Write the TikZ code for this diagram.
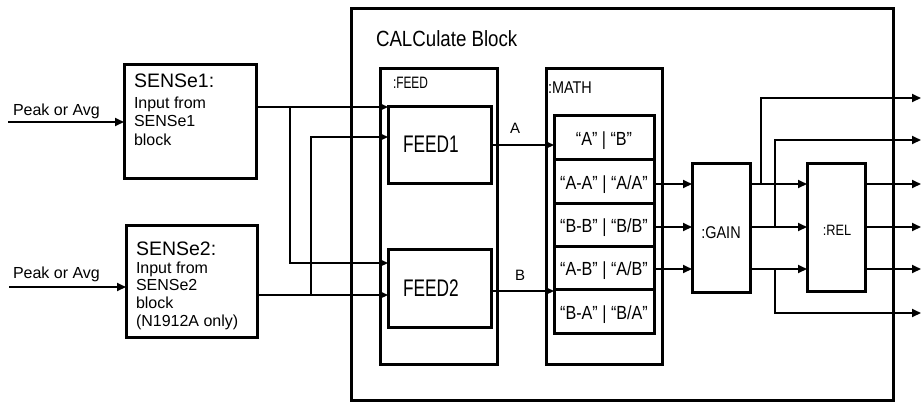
\documentclass[tikz,border=0pt]{standalone}
\usepackage{fontspec}
\setmainfont{Liberation Sans}
\newfontfamily\fA{Liberation Sans}
\newfontfamily\fB{Liberation Sans}[FakeStretch=0.85]
\newfontfamily\fC{Liberation Sans}[FakeStretch=0.72]
\usetikzlibrary{arrows.meta}
\begin{document}
\begin{tikzpicture}[x=1pt,y=-1pt,
  box/.style={draw, line width=3pt, rectangle, inner sep=0pt, outer sep=0pt},
  conn/.style={line width=2pt},
  arr/.style={line width=2pt, -{Triangle[length=9pt,width=8pt]}},
  lbl/.style={inner sep=0pt, outer sep=0pt, anchor=base west},
  clbl/.style={inner sep=0pt, outer sep=0pt, anchor=base},
]
\useasboundingbox (0,0) rectangle (924,405);

% boxes
\node[box, minimum width=542, minimum height=392] (calc) at (622,204) {};
\node[box, minimum width=132, minimum height=114] (s1) at (190,121) {};
\node[box, minimum width=131, minimum height=112] (s2) at (191.5,281) {};
\node[box, minimum width=117, minimum height=296] (feed) at (438.5,216) {};
\node[box, minimum width=103, minimum height=77] (feed1) at (439.5,144.5) {};
\node[box, minimum width=103, minimum height=78] (feed2) at (439.5,288) {};
\node[box, minimum width=116, minimum height=296] (math) at (604,216) {};
\node[box, minimum width=100, minimum height=44] (r1) at (604,137) {};
\node[box, minimum width=100, minimum height=44] (r2) at (604,181) {};
\node[box, minimum width=100, minimum height=43] (r3) at (604,224.5) {};
\node[box, minimum width=100, minimum height=43] (r4) at (604,267.5) {};
\node[box, minimum width=100, minimum height=44] (r5) at (604,311) {};
\node[box, minimum width=58, minimum height=129] (gain) at (721,227.5) {};
\node[box, minimum width=58, minimum height=128] (rel) at (836,227) {};

% texts
\node[lbl] (title) at (376,46) {\fB\fontsize{22}{26}\selectfont CALCulate Block};
\node[lbl] (s1a) at (134,87) {\fA\fontsize{19.5}{22}\selectfont SENSe1:};
\node[lbl] (s1b) at (134,108) {\fA\fontsize{16}{18}\selectfont Input from};
\node[lbl] (s1c) at (134,126.5) {\fA\fontsize{16}{18}\selectfont SENSe1};
\node[lbl] (s1d) at (134,145) {\fA\fontsize{16}{18}\selectfont block};
\node[lbl] (s2a) at (136,255) {\fA\fontsize{19.5}{22}\selectfont SENSe2:};
\node[lbl] (s2b) at (136,273) {\fA\fontsize{16}{18}\selectfont Input from};
\node[lbl] (s2c) at (136,290.5) {\fA\fontsize{16}{18}\selectfont SENSe2};
\node[lbl] (s2d) at (136,308) {\fA\fontsize{16}{18}\selectfont block};
\node[lbl] (s2e) at (136,326) {\fA\fontsize{16}{18}\selectfont (N1912A only)};
\node[lbl] (pk1) at (13,115) {\fA\fontsize{16}{18}\selectfont Peak or Avg};
\node[lbl] (pk2) at (13,278) {\fA\fontsize{16}{18}\selectfont Peak or Avg};
\node[lbl] (feedl) at (393,88) {\fC\fontsize{16.5}{18}\selectfont :FEED};
\node[lbl] (mathl) at (548,93) {\fB\fontsize{17}{19}\selectfont :MATH};
\node[lbl] (f1l) at (403,152) {\fC\fontsize{24}{28}\selectfont FEED1};
\node[lbl] (f2l) at (403,296) {\fC\fontsize{24}{28}\selectfont FEED2};
\node[lbl] (al) at (510,133) {\fA\fontsize{15}{17}\selectfont A};
\node[lbl] (bl) at (515,280) {\fA\fontsize{15}{17}\selectfont B};
\node[clbl] (r1l) at (604,145) {\fB\fontsize{19}{21}\selectfont “A” | “B”};
\node[clbl] (r2l) at (604,189) {\fB\fontsize{19}{21}\selectfont “A-A” | “A/A”};
\node[clbl] (r3l) at (604,232.5) {\fB\fontsize{19}{21}\selectfont “B-B” | “B/B”};
\node[clbl] (r4l) at (604,275.5) {\fB\fontsize{19}{21}\selectfont “A-B” | “A/B”};
\node[clbl] (r5l) at (604,319) {\fB\fontsize{19}{21}\selectfont “B-A” | “B/A”};
\node[clbl] (gainl) at (721,238) {\fB\fontsize{17}{19}\selectfont :GAIN};
\node[clbl] (rell) at (837,235) {\fB\fontsize{15}{17}\selectfont :REL};

% coordinates
\coordinate (p1) at (8,122);
\coordinate (p2) at (9,287);
\coordinate (j1) at (290,107);
\coordinate (j2) at (290,263);
\coordinate (j3) at (311,295);
\coordinate (j4) at (311,137);
\coordinate (ya) at (0,145);
\coordinate (yb) at (0,291);
\coordinate (g1) at (0,184);
\coordinate (g2) at (0,227);
\coordinate (g3) at (0,269);
\coordinate (t1) at (761,184);
\coordinate (t2) at (775,227);
\coordinate (t3) at (775,269);
\coordinate (o1) at (921,98);
\coordinate (o2) at (921,140);
\coordinate (o3) at (921,184);
\coordinate (o4) at (921,227);
\coordinate (o5) at (921,269);
\coordinate (o6) at (921,313);

% inputs
\draw[arr] (p1) -- (s1.west |- p1);
\draw[arr] (p2) -- (s2.west |- p2);
% sense to feed
\draw[conn] (s1.east |- j1) -- (j1);
\draw[arr] (j1) -- (feed1.west |- j1);
\draw[arr] (j1) -- (j2) -- (feed2.west |- j2);
\draw[arr] (s2.east |- j3) -- (feed2.west |- j3);
\draw[arr] (j3) -- (j4) -- (feed1.west |- j4);
% feed to math
\draw[arr] (feed1.east |- ya) -- (r1.west |- ya);
\draw[arr] (feed2.east |- yb) -- (r5.west |- yb);
% math to gain
\draw[arr] (r2.east |- g1) -- (gain.west |- g1);
\draw[arr] (r3.east |- g2) -- (gain.west |- g2);
\draw[arr] (r4.east |- g3) -- (gain.west |- g3);
% gain to rel
\draw[arr] (gain.east |- g1) -- (rel.west |- g1);
\draw[arr] (gain.east |- g2) -- (rel.west |- g2);
\draw[arr] (gain.east |- g3) -- (rel.west |- g3);
% taps
\draw[arr] (t1) -- (t1 |- o1) -- (o1);
\draw[arr] (t2) -- (t2 |- o2) -- (o2);
\draw[arr] (t3) -- (t3 |- o6) -- (o6);
% rel outputs
\draw[arr] (rel.east |- o3) -- (o3);
\draw[arr] (rel.east |- o4) -- (o4);
\draw[arr] (rel.east |- o5) -- (o5);
\end{tikzpicture}
\end{document}
